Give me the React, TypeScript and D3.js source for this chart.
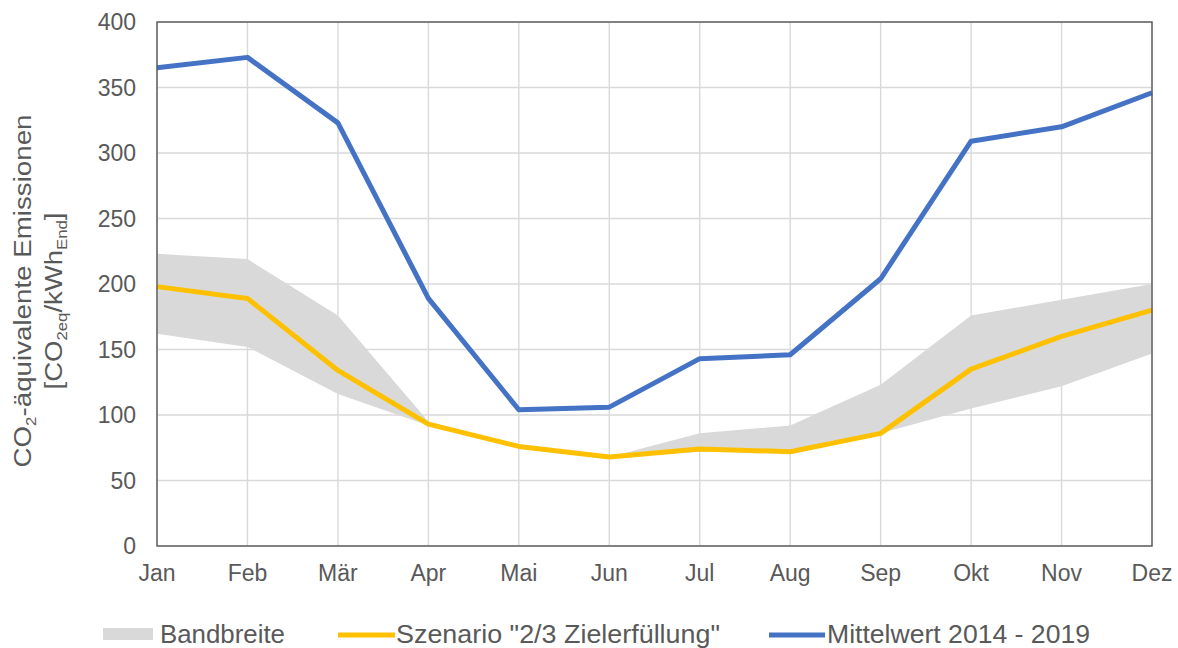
import React from 'react';
import * as d3 from 'd3';

const months = ['Jan', 'Feb', 'Mär', 'Apr', 'Mai', 'Jun', 'Jul', 'Aug', 'Sep', 'Okt', 'Nov', 'Dez'];
const mittelwert = [365, 373, 323, 189, 104, 106, 143, 146, 204, 309, 320, 346];
const szenario = [198, 189, 134, 93, 76, 68, 74, 72, 86, 135, 160, 180];
const bandUpper = [223, 219, 176, 95, 76, 68, 86, 92, 123, 176, 188, 200];
const bandLower = [162, 152, 116, 92, 76, 68, 72, 71, 86, 105, 122, 147];
const yTicks = [0, 50, 100, 150, 200, 250, 300, 350, 400];

const W = 1178;
const H = 648;
const m = { left: 157, right: 26, top: 22, bottom: 102 };
const font = '"Liberation Sans", Arial, sans-serif';
const textColor = '#595959';

const App = () => {
    const x = d3.scalePoint<string>().domain(months).range([m.left, W - m.right]);
    const y = d3.scaleLinear().domain([0, 400]).range([H - m.bottom, m.top]);

    const line = d3.line<number>()
        .x((_, i) => x(months[i])!)
        .y(d => y(d));

    const band = d3.area<number>()
        .x((_, i) => x(months[i])!)
        .y0((_, i) => y(bandLower[i]))
        .y1(d => y(d));

    const x0 = m.left;
    const x1 = W - m.right;
    const y0 = y(0);
    const yTop = y(400);

    return (
        <div style={{ position: 'absolute', left: 0, top: 0 }}>
            <svg width={W} height={H} style={{ display: 'block', background: '#fff' }} fontFamily={font}>
                {/* gridlines */}
                {yTicks.map(t => (
                    <line key={'h' + t} x1={x0} x2={x1} y1={y(t)} y2={y(t)} stroke="#d9d9d9" strokeWidth={1.4} />
                ))}
                {months.map(mo => (
                    <line key={'v' + mo} x1={x(mo)} x2={x(mo)} y1={yTop} y2={y0} stroke="#d9d9d9" strokeWidth={1.4} />
                ))}

                <path d={band(bandUpper)!} fill="#d9d9d9" />
                <path d={line(szenario)!} fill="none" stroke="#FFC000" strokeWidth={5} strokeLinejoin="round" />
                <path d={line(mittelwert)!} fill="none" stroke="#4472C4" strokeWidth={5} strokeLinejoin="round" />

                {/* frame */}
                <rect x={x0} y={yTop} width={x1 - x0} height={y0 - yTop} fill="none" stroke="#595959" strokeWidth={1.4} />

                {yTicks.map(t => (
                    <text key={'yl' + t} x={x0 - 21} y={y(t)} dy="0.35em" textAnchor="end" fontSize={23} fill={textColor}>{t}</text>
                ))}
                {months.map(mo => (
                    <text key={'xl' + mo} x={x(mo)} y={y0 + 27} dy="0.35em" textAnchor="middle" fontSize={23} fill={textColor}>{mo}</text>
                ))}

                {/* y axis title */}
                <g fill={textColor} fontSize={23} textAnchor="middle">
                    <text transform="translate(31, 291) rotate(-90)" textLength={353} lengthAdjust="spacingAndGlyphs">
                        CO<tspan fontSize={14} dy={5}>2</tspan><tspan dy={-5}>-äquivalente Emissionen</tspan>
                    </text>
                    <text transform="translate(62, 301) rotate(-90)" textLength={177} lengthAdjust="spacingAndGlyphs">
                        [CO<tspan fontSize={14} dy={5}>2eq</tspan><tspan dy={-5}>/kWh</tspan><tspan fontSize={14} dy={5}>End</tspan><tspan dy={-5}>]</tspan>
                    </text>
                </g>

                {/* legend */}
                <g fontSize={25} fill={textColor}>
                    <rect x={103} y={628} width={50} height={12} fill="#d9d9d9" />
                    <text x={160} y={643} textLength={125} lengthAdjust="spacingAndGlyphs">Bandbreite</text>
                    <line x1={338} x2={395} y1={635} y2={635} stroke="#FFC000" strokeWidth={5} />
                    <text x={396} y={643} textLength={324} lengthAdjust="spacingAndGlyphs">Szenario "2/3 Zielerfüllung"</text>
                    <line x1={769} x2={825} y1={635} y2={635} stroke="#4472C4" strokeWidth={5} />
                    <text x={827} y={643} textLength={263} lengthAdjust="spacingAndGlyphs">Mittelwert 2014 - 2019</text>
                </g>
            </svg>
        </div>
    );
};

export default App;
